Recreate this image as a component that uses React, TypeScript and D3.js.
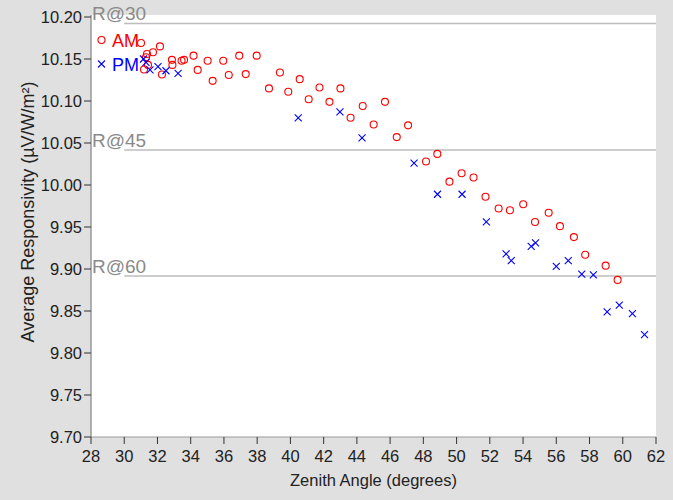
import React from "react";
import * as d3 from "d3";

const amAngle = [31.01, 32.15, 31.73, 31.37, 31.31, 31.43, 31.19, 32.27, 32.87, 32.9, 33.45, 33.6, 34.17, 34.42, 35.02, 35.32, 35.96, 36.29, 36.92, 37.31, 37.97, 38.71, 39.37, 39.87, 40.56, 41.1, 41.75, 42.35, 43.01, 43.62, 44.35, 45.01, 45.69, 46.4, 47.08, 48.16, 48.84, 49.57, 50.3, 51.02, 51.74, 52.53, 53.21, 54.01, 54.72, 55.54, 56.22, 57.06, 57.74, 58.97, 59.69];
const amResp = [10.169, 10.165, 10.158, 10.156, 10.152, 10.143, 10.1375, 10.1315, 10.149, 10.143, 10.148, 10.149, 10.154, 10.137, 10.148, 10.124, 10.148, 10.131, 10.154, 10.132, 10.154, 10.115, 10.134, 10.111, 10.126, 10.102, 10.116, 10.099, 10.115, 10.08, 10.094, 10.072, 10.099, 10.057, 10.071, 10.028, 10.037, 10.004, 10.014, 10.009, 9.986, 9.972, 9.97, 9.977, 9.956, 9.967, 9.951, 9.938, 9.917, 9.904, 9.887];
const pmAngle = [31.16, 31.31, 31.55, 32.03, 32.51, 33.24, 40.47, 42.98, 44.31, 47.44, 48.85, 50.33, 51.79, 52.98, 53.29, 54.49, 54.75, 56.0, 56.72, 57.53, 58.23, 59.06, 59.79, 60.58, 61.31];
const pmResp = [10.15, 10.146, 10.137, 10.141, 10.136, 10.133, 10.08, 10.087, 10.056, 10.026, 9.989, 9.989, 9.956, 9.918, 9.91, 9.927, 9.931, 9.903, 9.91, 9.894, 9.893, 9.849, 9.857, 9.847, 9.822];

const refLabels = ["R@30", "R@45", "R@60"];
const refValues = [10.1923, 10.0417, 9.8917];

const xTicks = d3.range(28, 63, 2);
const yTicks = d3.range(0, 11).map((i) => +(9.7 + i * 0.05).toFixed(2));

const W = 673;
const H = 500;
const FONT = "'Liberation Sans', Arial, sans-serif";

export default function App() {
  const x = d3.scaleLinear().domain([28, 62]).range([91, 656]);
  const y = d3.scaleLinear().domain([9.7, 10.2]).range([437, 17]);
  const am = amAngle.map((a, i) => [a, amResp[i]]);
  const pm = pmAngle.map((a, i) => [a, pmResp[i]]);
  const s = 3.5;
  return (
    <svg width={W} height={H} style={{ position: "absolute", left: 0, top: 0 }} fontFamily={FONT}>
      <rect x={0} y={0} width={W} height={H} fill="#e0e0e0" />
      <rect x={x(28)} y={15} width={x(62) - x(28)} height={437 - 15} fill="#ffffff" />
      {refValues.map((v, i) => (
        <g key={refLabels[i]}>
          <line x1={x(30)} x2={x(62)} y1={y(v)} y2={y(v)} stroke="#bdbdbd" strokeWidth={1.5} />
          <text x={x(28) + 1} y={y(v) - 3} fontSize={19} fill="#8a8a8a">{refLabels[i]}</text>
        </g>
      ))}
      <line x1={x(28)} x2={x(28)} y1={15} y2={437} stroke="#999" strokeWidth={1.5} />
      <line x1={x(28)} x2={x(62)} y1={437} y2={437} stroke="#999" strokeWidth={1} />
      {yTicks.map((t) => (
        <g key={t}>
          <line x1={x(28) - 7} x2={x(28)} y1={y(t)} y2={y(t)} stroke="#333" />
          <text x={x(28) - 9} y={y(t)} dy="0.36em" textAnchor="end" fontSize={16.5} fill="#222">{t.toFixed(2)}</text>
        </g>
      ))}
      {xTicks.map((t) => (
        <g key={t}>
          <line x1={x(t)} x2={x(t)} y1={437} y2={444} stroke="#333" />
          <text x={x(t)} y={462} textAnchor="middle" fontSize={16.5} fill="#222">{t}</text>
        </g>
      ))}
      <text x={(x(28) + x(62)) / 2} y={486} textAnchor="middle" fontSize={16.5} fill="#222">Zenith Angle (degrees)</text>
      <text transform={`translate(34,212) rotate(-90)`} textAnchor="middle" fontSize={18} fill="#222">Average Responsivity (µV/W/m²)</text>
      {am.map((d, i) => (
        <circle key={"a" + i} cx={x(d[0])} cy={y(d[1])} r={3.5} fill="none" stroke="#ff0000" strokeWidth={1.1} />
      ))}
      {pm.map((d, i) => (
        <path key={"p" + i} d={`M${x(d[0]) - s},${y(d[1]) - s}L${x(d[0]) + s},${y(d[1]) + s}M${x(d[0]) - s},${y(d[1]) + s}L${x(d[0]) + s},${y(d[1]) - s}`} stroke="#0000ff" strokeWidth={1.1} fill="none" />
      ))}
      <circle cx={101.5} cy={40} r={3.5} fill="none" stroke="#ff0000" strokeWidth={1.1} />
      <text x={112} y={46.5} fontSize={18} fill="#ff0000">AM</text>
      <path d={`M${101.5 - s},${64 - s}L${101.5 + s},${64 + s}M${101.5 - s},${64 + s}L${101.5 + s},${64 - s}`} stroke="#0000ff" strokeWidth={1.1} />
      <text x={112} y={70.5} fontSize={18} fill="#0000ff">PM</text>
    </svg>
  );
}
